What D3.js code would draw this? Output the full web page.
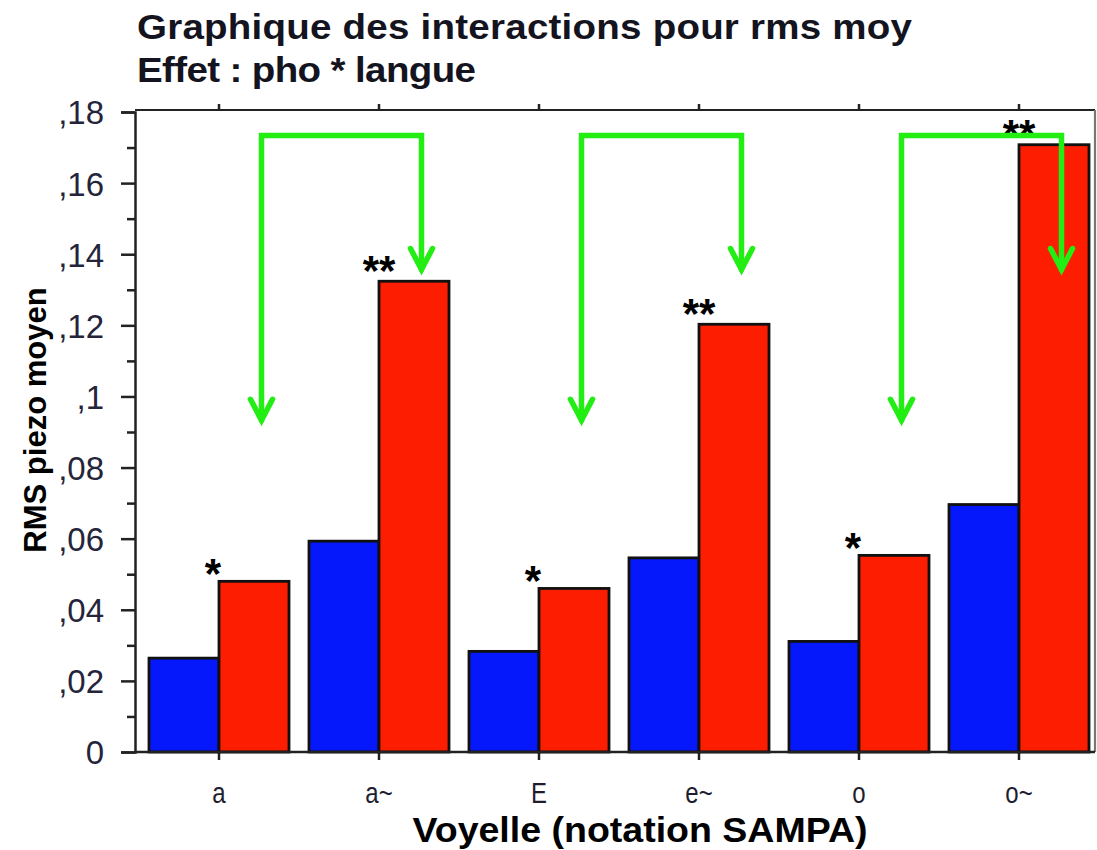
<!DOCTYPE html>
<html>
<head>
<meta charset="utf-8">
<script src="https://cdn.jsdelivr.net/npm/d3@7/dist/d3.min.js"></script>
<style>
  html, body { margin: 0; padding: 0; background: #fff; }
  svg { display: block; }
  text { font-family: "Liberation Sans", Arial, sans-serif; }
</style>
</head>
<body>
<svg id="chart" width="1097" height="850"></svg>
<script>
// Voyelles (notation SAMPA)
const voyelles = ["a", "a~", "E", "e~", "o", "o~"];
// RMS piezo moyen, par langue
const langue1 = [0.0264, 0.0593, 0.0283, 0.0546, 0.0311, 0.0696];
const langue2 = [0.0480, 0.1324, 0.0460, 0.1203, 0.0553, 0.1708];
// significativité de la différence entre langues
const signif = ["*", "**", "*", "**", "*", "**"];
// comparaisons orale -> nasale
const paires = [["a", "a~"], ["E", "e~"], ["o", "o~"]];
// graduations de l'axe Y
const yTicks = [0, 0.02, 0.04, 0.06, 0.08, 0.1, 0.12, 0.14, 0.16, 0.18];
const yMinorTicks = [0.01, 0.03, 0.05, 0.07, 0.09, 0.11, 0.13, 0.15, 0.17];

const titre1 = "Graphique des interactions pour rms moy";
const titre2 = "Effet : pho * langue";
const titreX = "Voyelle (notation SAMPA)";
const titreY = "RMS piezo moyen";

const couleurs = { l1: "#0418fb", l2: "#fd1d00" };
const vert = "#22ee14";

const svg = d3.select("#chart");
const plot = { left: 135, right: 1095, top: 110, bottom: 752 };

const y = d3.scaleLinear().domain([0, 0.18]).range([752, 112]);
const x = d3.scaleBand().domain(voyelles).range([139, 1099])
  .paddingInner(0.125).paddingOuter(0.0625);
const xs = d3.scaleBand().domain(["l1", "l2"]).range([0, x.bandwidth()]);

const data = voyelles.map((v, i) => ({ v, l1: langue1[i], l2: langue2[i], s: signif[i] }));

// titres (police grasse légèrement élargie)
const etirement = 1.1;
svg.append("text").attr("transform", `translate(137,39) scale(${etirement},1)`)
  .attr("font-size", 35).attr("font-weight", "bold")
  .attr("textLength", 775 / etirement).attr("lengthAdjust", "spacing")
  .attr("fill", "#141420").text(titre1);
svg.append("text").attr("transform", `translate(137,82) scale(${etirement},1)`)
  .attr("font-size", 35).attr("font-weight", "bold")
  .attr("textLength", 339 / etirement).attr("lengthAdjust", "spacing")
  .attr("fill", "#141420").text(titre2);

// barres
const groupes = svg.append("g").selectAll("g").data(data).join("g")
  .attr("transform", d => `translate(${x(d.v)},0)`);
groupes.selectAll("rect").data(d => ["l1", "l2"].map(k => ({ k, val: d[k] }))).join("rect")
  .attr("x", d => xs(d.k))
  .attr("y", d => y(d.val))
  .attr("width", xs.bandwidth())
  .attr("height", d => y(0) - y(d.val))
  .attr("fill", d => couleurs[d.k])
  .attr("stroke", "#111")
  .attr("stroke-width", 2.8);

// cadre
const cadre = svg.append("g").attr("stroke", "#222").attr("stroke-width", 2.2).attr("fill", "none");
cadre.append("line").attr("x1", plot.left).attr("x2", plot.right).attr("y1", plot.top).attr("y2", plot.top);
cadre.append("line").attr("x1", plot.right).attr("x2", plot.right).attr("y1", plot.top).attr("y2", plot.bottom)
  .attr("stroke", "#777");

// axe Y
const axeY = svg.append("g").attr("transform", `translate(${plot.left},0)`)
  .call(d3.axisLeft(y).tickValues(yTicks).tickSize(14).tickPadding(17)
    .tickFormat(v => v === 0 ? "0" : d3.format(".2~f")(v).replace(/^0\./, ",")));
axeY.select(".domain").attr("stroke", "#222").attr("stroke-width", 2.5);
axeY.selectAll(".tick line").attr("stroke", "#222").attr("stroke-width", 2.5);
axeY.selectAll(".tick text").attr("font-size", 33).attr("fill", "#24243a")
  .attr("font-family", "'Liberation Sans', Arial, sans-serif").attr("dy", "0.36em");
const axeYmin = svg.append("g").attr("transform", `translate(${plot.left},0)`)
  .call(d3.axisLeft(y).tickValues(yMinorTicks).tickSize(8).tickFormat(""));
axeYmin.select(".domain").remove();
axeYmin.selectAll(".tick line").attr("stroke", "#222").attr("stroke-width", 2.5);

// axe X
const axeX = svg.append("g").attr("transform", `translate(0,${plot.bottom})`)
  .call(d3.axisBottom(x).tickSize(8).tickPadding(0).tickSizeOuter(0));
axeX.select(".domain").attr("stroke", "#222").attr("stroke-width", 2.5)
  .attr("d", `M${plot.left},0H${plot.right}`);
axeX.selectAll(".tick line").attr("stroke", "#222").attr("stroke-width", 2.5);
// libellés étroits et hauts
axeX.selectAll(".tick text")
  .attr("y", null).attr("dy", null)
  .attr("transform", "translate(0,51) scale(0.8,1)")
  .attr("font-size", 30).attr("fill", "#1e1e30")
  .attr("font-family", "'Liberation Sans', Arial, sans-serif");
// graduations du haut
const axeHaut = svg.append("g").attr("transform", `translate(0,${plot.top})`)
  .call(d3.axisTop(x).tickSize(6).tickFormat(""));
axeHaut.select(".domain").remove();
axeHaut.selectAll(".tick line").attr("stroke", "#222").attr("stroke-width", 2.5);

// étoiles de significativité
svg.append("g").selectAll("text").data(data).join("text")
  .attr("x", d => x(d.v) + xs("l2") - (d.s.length === 1 ? 6 : 0))
  .attr("y", d => y(d.l2) + (d.s.length === 1 ? 7 : 4))
  .attr("text-anchor", "middle")
  .attr("font-size", 42)
  .attr("font-weight", "bold")
  .attr("fill", "#000")
  .text(d => d.s);

// flèches de comparaison orale -> nasale
const yHaut = y(0.1734), yPointeG = y(0.0933), yPointeD = y(0.1357);
const xFleche = v => x(v) + xs("l2") + xs.bandwidth() / 2 + 7.5;
const fleches = svg.append("g").attr("fill", "none").attr("stroke", vert)
  .attr("stroke-width", 5.5).attr("stroke-linecap", "round").attr("stroke-linejoin", "miter");
paires.forEach(([orale, nasale]) => {
  const xg = xFleche(orale), xd = xFleche(nasale);
  fleches.append("path").attr("d", `M${xg},${yPointeG}V${yHaut}H${xd}V${yPointeD}`);
  [[xg, yPointeG], [xd, yPointeD]].forEach(([px, py]) => {
    fleches.append("path").attr("d", `M${px - 11},${py - 21}L${px},${py}L${px + 11},${py - 21}`);
  });
});

// titres des axes
svg.append("text").attr("x", 640).attr("y", 842)
  .attr("text-anchor", "middle").attr("font-size", 35.5).attr("font-weight", "bold")
  .attr("textLength", 455).attr("lengthAdjust", "spacingAndGlyphs")
  .attr("fill", "#000").text(titreX);
svg.append("text").attr("transform", "translate(46,420) rotate(-90)")
  .attr("text-anchor", "middle").attr("font-size", 31).attr("font-weight", "bold")
  .attr("fill", "#000").text(titreY);
</script>
</body>
</html>
